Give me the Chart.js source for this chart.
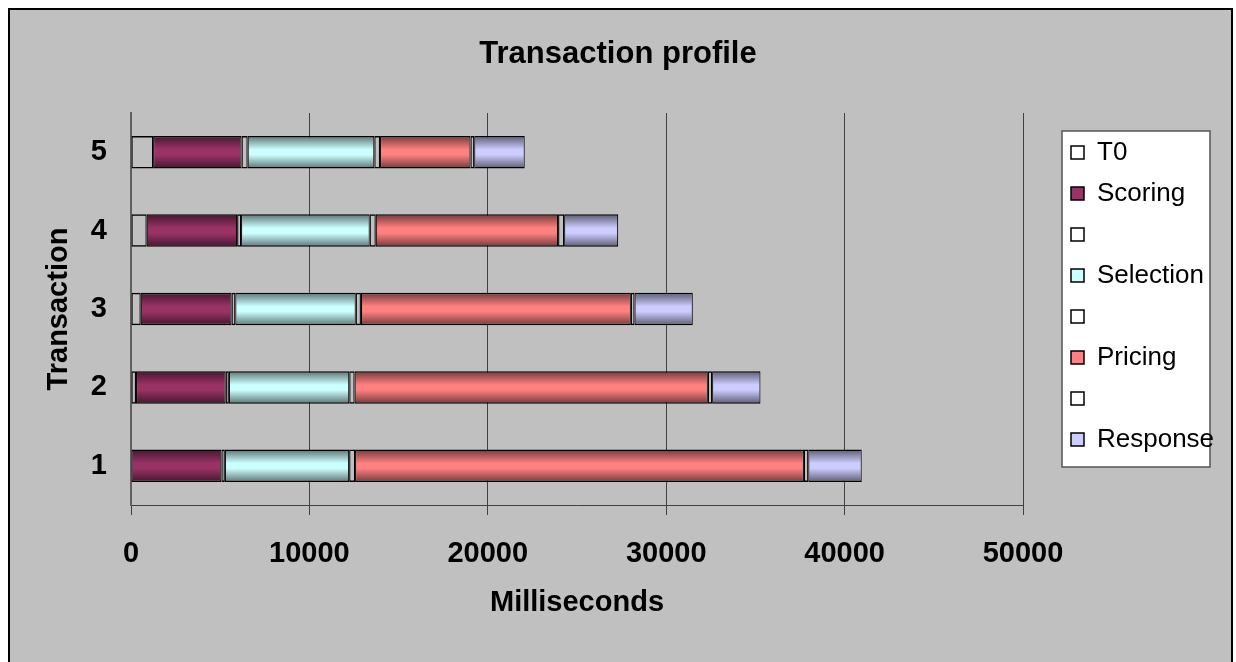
<!DOCTYPE html>
<html>
<head>
<meta charset="utf-8">
<script src="https://cdn.jsdelivr.net/npm/chart.js@4/dist/chart.umd.min.js"></script>
<style>
  html, body { margin: 0; padding: 0; background: #ffffff; }
  canvas { display: block; }
</style>
</head>
<body>
<canvas id="c" width="1236" height="662"></canvas>
<script>
// ---- data (milliseconds) ----
const categories = ['1', '2', '3', '4', '5'];
const seriesNames = ['T0', 'Scoring', '', 'Selection', '', 'Pricing', '', 'Response'];
const t0        = [0,     280,   545,   880,   1240];
const scoring   = [5070,  5030,  5095,  5070,  4960];
const gap1      = [190,   175,   208,   220,   340];
const selection = [6970,  6750,  6750,  7210,  7100];
const gap2      = [330,   300,   290,   340,   320];
const pricing   = [25160, 19800, 15130, 10220, 5070];
const gap3      = [245,   240,   208,   340,   210];
const response  = [2995,  2710,  3265,  3030,  2830];
const xTicks    = [0, 10000, 20000, 30000, 40000, 50000];

// ---- styling ----
const FONT = '"Liberation Sans", Arial, Helvetica, sans-serif';
Chart.defaults.font.family = FONT;
Chart.defaults.color = '#000000';

const BAR_PCT = 0.415;

function shade(hex, f) {
  const n = parseInt(hex.slice(1), 16);
  const r = Math.round(((n >> 16) & 255) * f);
  const g = Math.round(((n >> 8) & 255) * f);
  const b = Math.round((n & 255) * f);
  return `rgb(${r},${g},${b})`;
}

function bandFill(base) {
  return (ctx) => {
    const chart = ctx.chart;
    const ys = chart.scales && chart.scales.y;
    if (ctx.type !== 'data' || !ys || !chart.chartArea) return base;
    const c = ys.getPixelForValue(ctx.dataIndex);
    const band = Math.abs(ys.getPixelForValue(1) - ys.getPixelForValue(0));
    const half = band * BAR_PCT / 2;
    const g = chart.ctx.createLinearGradient(0, c - half, 0, c + half);
    g.addColorStop(0, shade(base, 0.45));
    g.addColorStop(0.42, base);
    g.addColorStop(0.58, base);
    g.addColorStop(1, shade(base, 0.45));
    return g;
  };
}

const colours = [null, '#993366', null, '#CCFFFF', null, '#FF8080', null, '#CCCCFF'];
const values = [t0, scoring, gap1, selection, gap2, pricing, gap3, response];

const datasets = values.map((v, i) => ({
  label: seriesNames[i],
  data: v,
  backgroundColor: colours[i] ? bandFill(colours[i]) : 'rgba(0,0,0,0)',
  borderColor: '#000000',
  borderWidth: {top: 1.5, bottom: 1.5, left: 1.1, right: 1.1},
  borderSkipped: false,
  barPercentage: BAR_PCT,
  categoryPercentage: 1.0,
  stack: 's'
}));

const framePlugin = {
  id: 'frame',
  beforeDraw(chart) {
    const ctx = chart.ctx;
    ctx.save();
    ctx.fillStyle = '#FFFFFF';
    ctx.fillRect(0, 0, chart.width, chart.height);
    ctx.fillStyle = '#C0C0C0';
    ctx.fillRect(9, 9, 1223, 660);
    ctx.strokeStyle = '#000000';
    ctx.lineWidth = 2;
    ctx.strokeRect(9, 9, 1223, 660);
    // legend panel
    ctx.fillStyle = '#FFFFFF';
    ctx.fillRect(1062, 131, 148, 336);
    ctx.strokeStyle = '#555555';
    ctx.lineWidth = 1.5;
    ctx.strokeRect(1062, 131, 148, 336);
    ctx.restore();
    const lg = chart.legend;
    if (lg) {
      lg.left = 1056; lg.top = 124.5; lg.right = 1236; lg.bottom = 662;
      lg.width = lg.right - lg.left; lg.height = lg.bottom - lg.top;
    }
  }
};

new Chart(document.getElementById('c'), {
  type: 'bar',
  data: { labels: categories, datasets },
  plugins: [framePlugin],
  options: {
    indexAxis: 'y',
    responsive: false,
    animation: false,
    devicePixelRatio: 1,
    layout: { padding: 0 },
    plugins: {
      title: {
        display: true,
        text: 'Transaction profile',
        color: '#000',
        font: { family: FONT, size: 31, weight: 'bold' },
        padding: { top: 36, bottom: 39.8 }
      },
      legend: {
        position: 'chartArea',
        align: 'start',
        labels: {
          color: '#000',
          font: { family: FONT, size: 26 },
          boxWidth: 13,
          boxHeight: 13,
          padding: 15,
          generateLabels: (chart) => chart.data.datasets.map((ds, i) => ({
            text: ds.label,
            fillStyle: colours[i] ? colours[i] : '#FFFFFF',
            strokeStyle: '#000000',
            lineWidth: 1.5,
            hidden: false,
            datasetIndex: i
          }))
        }
      },
      tooltip: { enabled: false }
    },
    scales: {
      x: {
        type: 'linear',
        stacked: true,
        min: 0,
        max: 50000,
        afterBuildTicks: (s) => { s.ticks = xTicks.map(v => ({ value: v })); },
        afterFit: (s) => { s.height = 157; },
        grid: { color: '#404040', lineWidth: 1, drawTicks: true, tickLength: 10 },
        border: { display: true, color: '#404040', width: 1 },
        ticks: {
          color: '#000',
          padding: 21.5,
          font: { family: FONT, size: 29, weight: 'bold' },
          callback: (v) => String(v),
          maxRotation: 0
        },
        title: {
          display: true,
          text: 'Milliseconds',
          color: '#000',
          font: { family: FONT, size: 29, weight: 'bold' },
          padding: { top: 0, bottom: 41.6 }
        }
      },
      y: {
        type: 'category',
        stacked: true,
        reverse: true,
        afterFit: (s) => { s.width = 131; },
        grid: { display: false, drawTicks: false },
        border: { display: true, color: '#606060', width: 2 },
        ticks: {
          color: '#000',
          padding: 24,
          font: { family: FONT, size: 29, weight: 'bold' }
        },
        title: {
          display: true,
          text: 'Transaction',
          color: '#000',
          font: { family: FONT, size: 29, weight: 'bold' },
          padding: { top: 42, bottom: 0 }
        }
      },
      yRight: {
        type: 'category',
        position: 'right',
        display: true,
        afterFit: (s) => { s.width = 213; },
        grid: { display: false, drawTicks: false },
        border: { display: false },
        ticks: { display: false },
        title: { display: false }
      }
    }
  }
});
</script>
</body>
</html>
